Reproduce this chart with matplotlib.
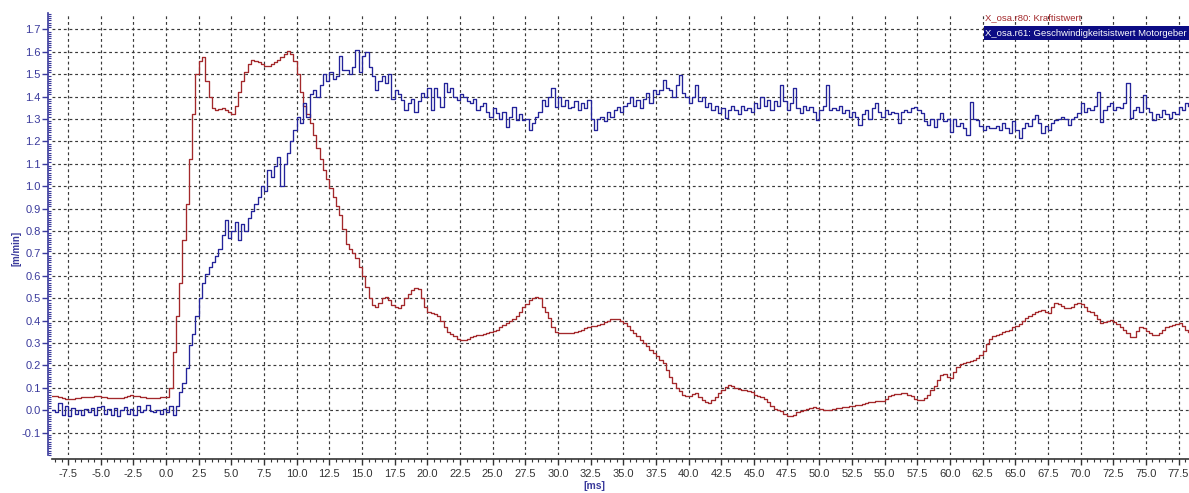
import numpy as np
import matplotlib
matplotlib.use("Agg")
import matplotlib.pyplot as plt
from matplotlib.patches import Rectangle
from matplotlib.ticker import MultipleLocator, FormatStrFormatter

# Sampling grid of the trace recorder
T0 = -8.75   # ms, first sample
DT = 0.25    # ms, sample period

# X_osa.r80: Kraftistwert
force = [
    # -8.75 .. -0.25 ms
    0.065, 0.063, 0.060, 0.055, 0.050, 0.048, 0.050, 0.053, 0.055, 0.057,
    0.058, 0.058, 0.060, 0.062, 0.062, 0.060, 0.058, 0.055, 0.054, 0.054,
    0.055, 0.056, 0.058, 0.062, 0.066, 0.065, 0.062, 0.060, 0.058, 0.056,
    0.054, 0.053, 0.055, 0.058, 0.060,
    # 0 ms
    0.058, 0.10, 0.26, 0.42, 0.57, 0.76, 0.92, 1.12, 1.32, 1.50,
    1.56, 1.575, 1.47, 1.40, 1.35, 1.34, 1.345, 1.35, 1.34, 1.33,
    # 5 ms
    1.32, 1.36, 1.42, 1.47, 1.51, 1.545, 1.565, 1.56, 1.555, 1.545,
    1.535, 1.535, 1.545, 1.555, 1.565, 1.575, 1.59, 1.605, 1.59, 1.56,
    # 10 ms
    1.50, 1.42, 1.36, 1.32, 1.28, 1.23, 1.17, 1.12, 1.07, 1.03,
    0.99, 0.95, 0.91, 0.87, 0.81, 0.74, 0.72, 0.70, 0.68, 0.64,
    # 15 ms
    0.60, 0.55, 0.50, 0.47, 0.46, 0.48, 0.50, 0.505, 0.49, 0.47,
    0.46, 0.455, 0.47, 0.50, 0.52, 0.535, 0.545, 0.54, 0.50, 0.46,
    # 20 ms
    0.44, 0.435, 0.43, 0.42, 0.40, 0.37, 0.35, 0.34, 0.33, 0.32,
    0.315, 0.315, 0.32, 0.325, 0.33, 0.335, 0.335, 0.34, 0.345, 0.35,
    # 25 ms
    0.355, 0.36, 0.37, 0.38, 0.39, 0.40, 0.405, 0.42, 0.44, 0.46,
    0.475, 0.49, 0.50, 0.505, 0.50, 0.46, 0.44, 0.41, 0.37, 0.35,
    # 30 ms
    0.345, 0.345, 0.345, 0.345, 0.345, 0.35, 0.355, 0.36, 0.365, 0.37,
    0.375, 0.375, 0.38, 0.385, 0.395, 0.40, 0.405, 0.405, 0.405, 0.40,
    # 35 ms
    0.39, 0.375, 0.36, 0.345, 0.33, 0.315, 0.30, 0.285, 0.27, 0.255,
    0.24, 0.225, 0.21, 0.18, 0.15, 0.12, 0.10, 0.085, 0.07, 0.062,
    # 40 ms
    0.065, 0.072, 0.076, 0.06, 0.045, 0.035, 0.032, 0.045, 0.06, 0.075,
    0.09, 0.105, 0.112, 0.11, 0.10, 0.095, 0.09, 0.09, 0.085, 0.08,
    # 45 ms
    0.07, 0.065, 0.06, 0.05, 0.035, 0.02, 0.005, 0.0, -0.005, -0.015,
    -0.025, -0.028, -0.02, -0.01, -0.005, 0.0, 0.005, 0.01, 0.015, 0.01,
    # 50 ms
    0.005, 0.0, 0.0, 0.0, 0.005, 0.01, 0.012, 0.015, 0.016, 0.018,
    0.02, 0.022, 0.025, 0.028, 0.031, 0.035, 0.038, 0.04, 0.04, 0.042,
    # 55 ms
    0.05, 0.062, 0.068, 0.072, 0.074, 0.076, 0.075, 0.07, 0.062, 0.052,
    0.045, 0.045, 0.055, 0.07, 0.09, 0.11, 0.135, 0.155, 0.16, 0.15,
    # 60 ms
    0.143, 0.17, 0.195, 0.205, 0.21, 0.215, 0.218, 0.225, 0.235, 0.245,
    0.265, 0.295, 0.32, 0.33, 0.335, 0.34, 0.348, 0.355, 0.36, 0.37,
    # 65 ms
    0.378, 0.385, 0.40, 0.412, 0.42, 0.43, 0.438, 0.445, 0.448, 0.44,
    0.435, 0.46, 0.478, 0.475, 0.465, 0.458, 0.455, 0.462, 0.472, 0.48,
    # 70 ms
    0.475, 0.46, 0.445, 0.44, 0.425, 0.405, 0.39, 0.392, 0.40, 0.403,
    0.395, 0.385, 0.373, 0.36, 0.345, 0.325, 0.325, 0.355, 0.373, 0.365,
    # 75 ms
    0.355, 0.345, 0.337, 0.336, 0.345, 0.36, 0.372, 0.375, 0.38, 0.385,
    0.388, 0.375, 0.36, 0.35,
]

# X_osa.r61: Geschwindigkeitsistwert Motorgeber
speed = [
    # -8.75 .. -0.25 ms
    0.0, -0.01, 0.03, -0.02, 0.02, -0.025, 0.01, -0.015, 0.0, -0.02,
    0.005, -0.01, 0.01, -0.02, 0.015, 0.02, -0.015, 0.005, -0.02, 0.01,
    -0.025, 0.0, 0.015, -0.015, 0.005, -0.02, 0.02, -0.01, 0.0, 0.025,
    -0.005, -0.01, 0.0, -0.015, 0.005,
    # 0 ms
    -0.01, 0.02, -0.02, 0.02, 0.08, 0.12, 0.19, 0.29, 0.34, 0.42,
    0.50, 0.57, 0.61, 0.64, 0.66, 0.69, 0.72, 0.78, 0.85, 0.77,
    # 5 ms
    0.80, 0.84, 0.76, 0.83, 0.80, 0.86, 0.89, 0.92, 0.95, 1.00,
    0.98, 1.07, 1.04, 1.09, 1.13, 1.00, 1.10, 1.15, 1.20, 1.25,
    # 10 ms
    1.31, 1.28, 1.37, 1.31, 1.41, 1.43, 1.40, 1.45, 1.50, 1.47,
    1.51, 1.48, 1.49, 1.58, 1.52, 1.52, 1.50, 1.53, 1.61, 1.51,
    # 15 ms
    1.58, 1.60, 1.53, 1.49, 1.43, 1.47, 1.49, 1.46, 1.50, 1.39,
    1.43, 1.41, 1.385, 1.34, 1.37, 1.39, 1.33, 1.38, 1.415, 1.40,
    # 20 ms
    1.44, 1.34, 1.44, 1.40, 1.355, 1.46, 1.42, 1.44, 1.40, 1.385,
    1.41, 1.40, 1.38, 1.37, 1.39, 1.34, 1.36, 1.37, 1.33, 1.31,
    # 25 ms
    1.35, 1.325, 1.30, 1.33, 1.266, 1.31, 1.355, 1.295, 1.32, 1.295,
    1.30, 1.25, 1.28, 1.31, 1.33, 1.385, 1.36, 1.40, 1.437, 1.355,
    # 30 ms
    1.40, 1.36, 1.385, 1.35, 1.355, 1.38, 1.34, 1.37, 1.35, 1.385,
    1.30, 1.251, 1.30, 1.31, 1.29, 1.33, 1.31, 1.34, 1.355, 1.33,
    # 35 ms
    1.36, 1.37, 1.40, 1.36, 1.385, 1.35, 1.39, 1.415, 1.37, 1.43,
    1.41, 1.43, 1.474, 1.44, 1.43, 1.40, 1.45, 1.496, 1.415, 1.40,
    # 40 ms
    1.37, 1.40, 1.452, 1.38, 1.40, 1.355, 1.37, 1.34, 1.36, 1.325,
    1.35, 1.303, 1.34, 1.36, 1.34, 1.32, 1.36, 1.34, 1.35, 1.33,
    # 45 ms
    1.37, 1.35, 1.40, 1.36, 1.385, 1.34, 1.38, 1.36, 1.452, 1.38,
    1.34, 1.37, 1.437, 1.35, 1.325, 1.36, 1.34, 1.355, 1.33, 1.295,
    # 50 ms
    1.34, 1.36, 1.452, 1.34, 1.35, 1.34, 1.36, 1.325, 1.34, 1.31,
    1.33, 1.31, 1.273, 1.32, 1.34, 1.30, 1.35, 1.37, 1.33, 1.31,
    # 55 ms
    1.34, 1.32, 1.33, 1.325, 1.28, 1.33, 1.34, 1.33, 1.35, 1.355,
    1.34, 1.325, 1.29, 1.273, 1.30, 1.266, 1.30, 1.325, 1.29, 1.30,
    # 60 ms
    1.243, 1.30, 1.27, 1.28, 1.26, 1.228, 1.377, 1.30, 1.295, 1.27,
    1.251, 1.27, 1.26, 1.258, 1.27, 1.25, 1.28, 1.26, 1.236, 1.29,
    # 65 ms
    1.25, 1.214, 1.26, 1.28, 1.27, 1.30, 1.318, 1.28, 1.236, 1.27,
    1.251, 1.28, 1.295, 1.30, 1.31, 1.30, 1.273, 1.30, 1.31, 1.325,
    # 70 ms
    1.37, 1.33, 1.35, 1.34, 1.36, 1.422, 1.288, 1.34, 1.36, 1.37,
    1.34, 1.355, 1.35, 1.37, 1.459, 1.303, 1.34, 1.355, 1.33, 1.407,
    # 75 ms
    1.35, 1.33, 1.295, 1.32, 1.31, 1.34, 1.32, 1.303, 1.33, 1.32,
    1.355, 1.34, 1.37, 1.36,
]

x_major = 2.5
y_major = 0.1
legend_labels = ["X_osa.r80: Kraftistwert",
                 "X_osa.r61: Geschwindigkeitsistwert Motorgeber"]

RED = "#a3282b"
NAVY = "#23239a"
LABEL_NAVY = "#3a3a9c"

W, H = 1189, 493
fig = plt.figure(figsize=(W / 100, H / 100), dpi=100)
fig.patch.set_facecolor("white")
ax = fig.add_axes([52 / W, 1 - 455 / H, 1 - 52 / W, (455 - 13) / H])

t_force = T0 + DT * np.arange(len(force))
t_speed = T0 + DT * np.arange(len(speed))

ax.plot(t_force, force, drawstyle="steps-post", color=RED, lw=0.95, zorder=3)
ax.plot(t_speed, speed, drawstyle="steps-post", color=NAVY, lw=0.95, zorder=4)

ax.set_xlim(-8.73, 78.3)
ax.set_ylim(-0.2, 1.773)

ax.xaxis.set_major_locator(MultipleLocator(x_major))
ax.xaxis.set_minor_locator(MultipleLocator(0.5))
ax.xaxis.set_major_formatter(FormatStrFormatter("%.1f"))
ax.yaxis.set_minor_locator(MultipleLocator(0.01))
ax.yaxis.set_major_formatter(FormatStrFormatter("%.1f"))
ax.set_yticks([v * y_major for v in range(-1, 18)])

ax.grid(which="major", color="#3a3a3a", linestyle=(0, (2.4, 2.4)), lw=0.85)

for s in ("top", "right"):
    ax.spines[s].set_visible(False)
ax.spines["left"].set_position(("outward", 3))
ax.spines["bottom"].set_position(("outward", 3))
ax.spines["left"].set_color(LABEL_NAVY)
ax.spines["left"].set_linewidth(1.2)
ax.spines["bottom"].set_color("#333333")
ax.spines["bottom"].set_linewidth(1.2)

ax.tick_params(axis="y", which="major", direction="out", length=4, width=1,
               color=LABEL_NAVY, labelcolor=LABEL_NAVY, labelsize=8, pad=1)
ax.tick_params(axis="y", which="minor", direction="in", length=2.5, width=0.8,
               color=LABEL_NAVY)
ax.tick_params(axis="x", which="major", direction="out", length=4, width=1,
               color="#333333", labelcolor="#333333", labelsize=8, pad=3)
ax.tick_params(axis="x", which="minor", direction="out", length=2.5, width=0.8,
               color="#333333")
for lab in ax.get_xticklabels() + ax.get_yticklabels():
    lab.set_fontfamily("Liberation Sans")

fig.text(17 / W, 1 - 248 / H, "[m/min]", rotation=90, ha="center", va="center",
         fontsize=7, fontweight="bold", color=LABEL_NAVY,
         family="Liberation Sans")
fig.text(594 / W, 1 - 486 / H, "[ms]", ha="center", va="center",
         fontsize=7.5, fontweight="bold", color=LABEL_NAVY,
         family="Liberation Sans")

# legend block in the upper right corner; the selected entry is highlighted
fig.patches.append(Rectangle((984 / W, 1 - 40 / H), (W - 984) / W, 14 / H,
                             transform=fig.transFigure, facecolor="#0c0c84",
                             edgecolor="none", zorder=5))
fig.text(985 / W, 1 - 17.5 / H, legend_labels[0], ha="left", va="center",
         fontsize=6.8, color=RED, family="Liberation Sans", zorder=6)
fig.text(985 / W, 1 - 33 / H, legend_labels[1], ha="left", va="center",
         fontsize=6.8, color="white", family="Liberation Sans", zorder=6)

fig.savefig("out.png", dpi=100, facecolor="white")
